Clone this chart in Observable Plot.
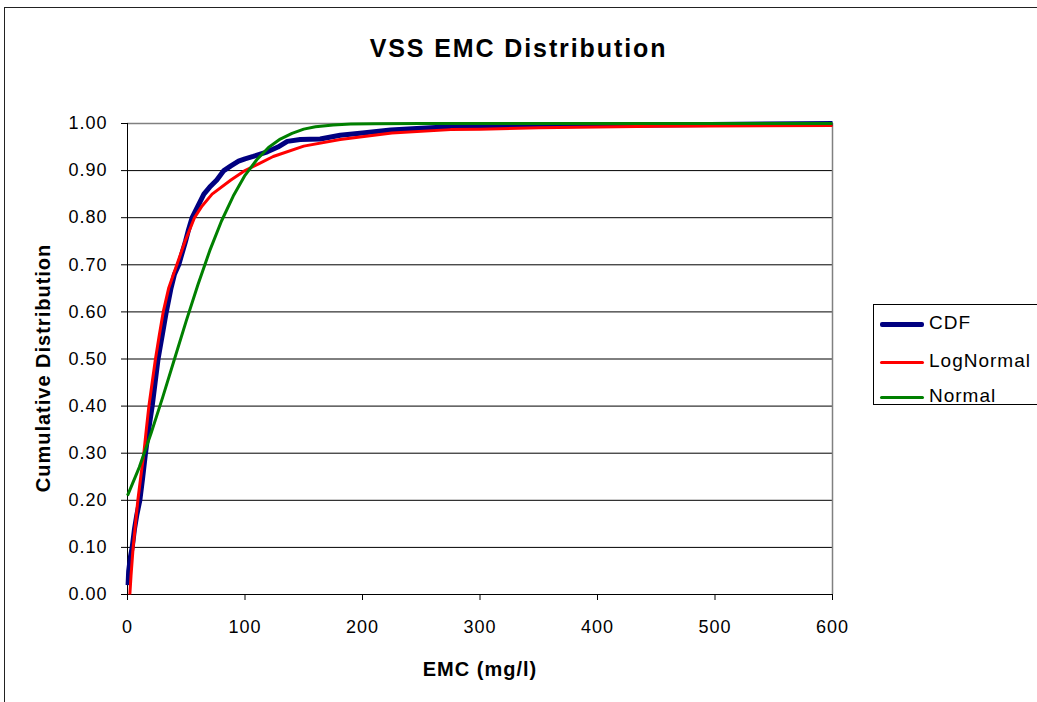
<!DOCTYPE html>
<html>
<head>
<meta charset="utf-8">
<script src="https://cdn.jsdelivr.net/npm/d3@7"></script>
<script src="https://cdn.jsdelivr.net/npm/@observablehq/plot@0.6"></script>
<style>
  html, body { margin: 0; padding: 0; background: white; overflow: hidden; }
  #wrap { position: relative; width: 1037px; height: 702px; overflow: hidden; background: white; font-family: "Liberation Sans", Arial, sans-serif; }
  #frame { position: absolute; left: 4px; top: 7px; width: 1100px; height: 800px; border: 1px solid #222; box-sizing: border-box; z-index: 5; pointer-events: none; }
  #title { position: absolute; left: 0; top: 30px; width: 1037px; text-align: center; font-size: 25px; line-height: 36px; font-weight: bold; letter-spacing: 1.9px; }
  #plot { position: absolute; left: 0; top: 100px; }
  #legend { position: absolute; left: 873px; top: 304px; width: 200px; height: 101px; border: 1px solid #000; background: white; box-sizing: border-box; }
  .row { position: absolute; left: 0; width: 200px; height: 0; }
  .swatch { position: absolute; left: 6px; width: 44px; }
  .lab { position: absolute; left: 55px; font-size: 19px; letter-spacing: 1px; line-height: 22px; top: -12px; white-space: nowrap; }
</style>
</head>
<body>
<div id="wrap">
  <div id="title">VSS EMC Distribution</div>
  <div id="plot"></div>
  <div id="legend"></div>
  <div id="frame"></div>
</div>
<script>
const cdfX = [0.5, 1, 2.5, 4, 6, 8, 10.5, 13, 15.3, 18, 21, 23.5, 26, 29.5, 33, 37, 40, 43.6, 46.5, 49.4, 52, 55, 60, 65, 70, 76, 82, 88, 94.5, 100, 107, 113, 119, 128, 136, 147, 164, 181, 200, 224, 250, 275, 300, 351, 450, 600];
const cdfY = [0.02, 0.05, 0.08, 0.10, 0.14, 0.17, 0.20, 0.25, 0.30, 0.35, 0.40, 0.45, 0.50, 0.55, 0.60, 0.65, 0.68, 0.70, 0.725, 0.75, 0.775, 0.80, 0.825, 0.85, 0.865, 0.88, 0.90, 0.91, 0.92, 0.925, 0.93, 0.935, 0.94, 0.95, 0.962, 0.966, 0.967, 0.975, 0.98, 0.986, 0.99, 0.993, 0.994, 0.995, 0.997, 1.0];
// LogNormal fit
const logX = [2, 3, 4.8, 6.8, 8.8, 11.3, 13.9, 16, 18.2, 21, 23.8, 27, 30.4, 35, 42, 49, 57, 63.5, 72, 88, 100, 112, 124, 150, 181, 225, 275, 300, 350, 450, 600];
const logY = [0.0, 0.04, 0.10, 0.15, 0.20, 0.25, 0.30, 0.35, 0.40, 0.45, 0.50, 0.55, 0.60, 0.65, 0.70, 0.75, 0.80, 0.825, 0.85, 0.88, 0.90, 0.915, 0.93, 0.952, 0.966, 0.98, 0.987, 0.988, 0.991, 0.994, 0.996];
// Normal fit
const normX = [0, 10, 20, 30, 40, 50, 60, 70, 80, 90, 100, 110, 120, 130, 140, 150, 160, 175, 190, 210, 250, 600];
const normY = [0.21, 0.27, 0.342, 0.419, 0.50, 0.581, 0.658, 0.730, 0.793, 0.846, 0.890, 0.923, 0.949, 0.967, 0.979, 0.988, 0.993, 0.997, 0.9988, 0.9997, 1.0, 1.0];

const seriesNames = ["CDF", "LogNormal", "Normal"];
const seriesColors = ["#000080", "#ff0000", "#008000"];
const seriesWidths = [5, 3, 3];
const xTicks = [0, 100, 200, 300, 400, 500, 600];
const yTicks = [0, 0.1, 0.2, 0.3, 0.4, 0.5, 0.6, 0.7, 0.8, 0.9, 1.0];

const rows = (xs, ys) => xs.map((x, i) => ({x, y: ys[i]}));
const data = [rows(cdfX, cdfY), rows(logX, logY), rows(normX, normY)];

const chart = Plot.plot({
  width: 860,
  height: 602,
  marginTop: 23,
  marginBottom: 108,
  marginLeft: 127,
  marginRight: 28,
  style: {fontFamily: "'Liberation Sans', Arial, sans-serif", fontSize: "18px", letterSpacing: "1px", background: "transparent", color: "black", overflow: "visible"},
  x: {domain: [0, 600]},
  y: {domain: [0, 1]},
  marks: [
    Plot.ruleY(yTicks.filter(d => d > 0 && d < 1), {stroke: "black", strokeWidth: 1}),
    Plot.ruleY([1], {stroke: "#808080", strokeWidth: 1.5}),
    Plot.ruleX([600], {stroke: "#808080", strokeWidth: 1.5}),
    Plot.axisX({ticks: xTicks, tickSize: 6, tickPadding: 20, tickFormat: d => String(d), label: null, stroke: "black"}),
    Plot.axisY({ticks: yTicks, tickSize: 6, tickPadding: 14, tickFormat: d3.format(".2f"), label: null, stroke: "black"}),
    Plot.ruleX([0], {stroke: "black"}),
    Plot.ruleY([0], {stroke: "black"}),
    ...data.map((d, i) => Plot.line(d, {x: "x", y: "y", stroke: seriesColors[i], strokeWidth: seriesWidths[i], strokeLinejoin: "round", strokeLinecap: "butt"})),
    Plot.text(["EMC (mg/l)"], {frameAnchor: "bottom", lineAnchor: "middle", textAnchor: "middle", dy: 75, fontWeight: "bold", fontSize: 20, text: d => d}),
    Plot.text(["Cumulative Distribution"], {frameAnchor: "left", rotate: -90, textAnchor: "middle", lineAnchor: "middle", dx: -84, dy: 9, fontWeight: "bold", fontSize: 20, text: d => d})
  ]
});
document.getElementById("plot").appendChild(chart);

// legend
const legend = document.getElementById("legend");
const rowTops = [19, 57, 92];
seriesNames.forEach((name, i) => {
  const r = document.createElement("div");
  r.className = "row";
  r.style.top = rowTops[i] + "px";
  const sw = document.createElement("div");
  sw.className = "swatch";
  sw.style.height = seriesWidths[i] + "px";
  sw.style.top = (-seriesWidths[i] / 2) + "px";
  sw.style.background = seriesColors[i];
  sw.style.borderRadius = "2px";
  const lab = document.createElement("div");
  lab.className = "lab";
  lab.textContent = name;
  r.appendChild(sw);
  r.appendChild(lab);
  legend.appendChild(r);
});
</script>
</body>
</html>
